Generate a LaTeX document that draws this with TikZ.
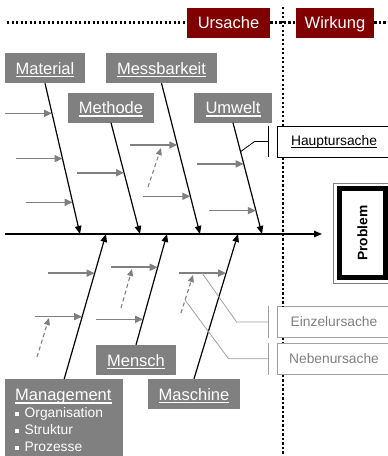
\documentclass[tikz,border=0pt]{standalone}
\usepackage{fontspec}
\setmainfont{Liberation Sans}
\usepackage{xcolor}
\usepackage{tikz}
\usetikzlibrary{arrows.meta, positioning, calc}

\definecolor{causered}{HTML}{800000}
\definecolor{bonegray}{HTML}{808080}
\definecolor{notegray}{HTML}{A0A0A0}

\newsavebox{\ulnbox}
\newcommand{\uln}[1]{\sbox{\ulnbox}{#1}\rlap{\rule[-3pt]{\wd\ulnbox}{1.1pt}}\usebox{\ulnbox}}
\newcommand{\sqbul}{\rule[1.8pt]{3.5pt}{3.5pt}\hspace{6pt}}

\begin{document}
\begin{tikzpicture}[
  x=1pt, y=-1pt,
  cat/.style={fill=bonegray, text=white, minimum height=30pt, inner xsep=11pt,
              inner ysep=0pt, text height=12pt, text depth=0pt,
              font=\fontsize{16.5}{17}\selectfont},
  head/.style={fill=causered, text=white, minimum height=30pt, inner sep=0pt,
               text height=12pt, text depth=0pt,
               font=\fontsize{16.5}{17}\selectfont},
  note/.style={draw, fill=white, line width=0.8pt, minimum width=114pt,
               minimum height=31pt, inner sep=0pt,
               font=\fontsize{13.8}{15}\selectfont},
  bone/.style={-{Triangle[length=8pt, width=6.5pt]}, line width=1.2pt},
  cause/.style={-{Triangle[length=8pt, width=7pt]}, bonegray, line width=1.6pt},
  sub/.style={-{Triangle[length=7pt, width=6pt]}, bonegray, line width=1.1pt,
              dash pattern=on 4pt off 3pt},
  sep/.style={black, line width=2.3pt, dash pattern=on 2.3pt off 2.2pt},
  brk/.style={line width=0.8pt},
]
\useasboundingbox (0,0) rectangle (388,456);
\clip (0,0) rectangle (388,456);

% ---- Ursache / Wirkung -----------------------------------------------------
\node[head, minimum width=83pt] (URS) at (228.5,22.5) {Ursache};
\node[head, minimum width=78pt] (WIR) at (335,22.5) {Wirkung};

% ---- Main categories -------------------------------------------------------
\node[cat] (MAT) at (45,68) {\uln{Material}};
\node[cat] (MES) at (161.5,68) {\uln{Messbarkeit}};
\node[cat] (MET) at (111,107.5) {\uln{Methode}};
\node[cat] (UMW) at (233,107.5) {\uln{Umwelt}};
\node[cat] (MEN) at (136,360) {\uln{Mensch}};
\node[cat] (MAS) at (194,394) {\uln{Maschine}};
\node[cat, anchor=north west, align=left, text width=98pt, inner xsep=10pt,
      inner ysep=10pt, text height=, text depth=, minimum height=0pt]
  (MAN) at (5,379)
  {\uln{Management}\\\fontsize{13.8}{17}\selectfont
   \sqbul Organisation\\\sqbul Struktur\\\sqbul Prozesse};

% ---- Problem ---------------------------------------------------------------
\node[draw, line width=5pt, minimum width=46pt, minimum height=89pt,
      inner sep=0pt] (PROB) at (362.5,233) {};
\node[rotate=90, font=\bfseries\fontsize{13.8}{15}\selectfont] (PROBT)
  at (PROB.center) {Problem};
\draw[bonegray, line width=0.9pt] ([shift={(-4pt,3pt)}]PROB.north west)
  rectangle ([shift={(4pt,-3pt)}]PROB.south east);

% ---- Legend boxes ----------------------------------------------------------
\node[note] (HU) at (334,141.5) {\uln{Hauptursache}};
\node[note, draw=notegray, text=bonegray] (EU) at (334,322) {Einzelursache};
\node[note, draw=notegray, text=bonegray, below=5pt of EU] (NU) {Nebenursache};

% ---- Separators ------------------------------------------------------------
\coordinate (dL) at (7,22.5);
\coordinate (dR) at (392,22.5);
\coordinate (dT) at (283,7);
\coordinate (dB) at (283,458);
\draw[sep] (dL) -- (URS.west) (URS.east) -- (WIR.west) (WIR.east) -- (dR);
\draw[sep] (dT) -- (dT |- HU.north) (dT |- HU.south) -- (dT |- EU.north)
  (dT |- EU.south) -- (dT |- NU.north) (dT |- NU.south) -- (dB);

% ---- Spine and bones -------------------------------------------------------
\coordinate (sL) at (5,234);
\coordinate (sR) at (322,234);
\draw[bone, line width=1.3pt] (sL) -- (sR);

\foreach \n/\x in {MAT/80,MET/140,MES/200,UMW/262,MAN/106,MEN/167,MAS/238}
  \coordinate (p\n) at (\x,234);
\foreach \n in {MAT,MET,MES,UMW} \draw[bone] (\n.south) -- (p\n);
\foreach \n in {MAN,MEN,MAS} \draw[bone] (\n.north) -- (p\n);

% ---- Causes ----------------------------------------------------------------
\foreach \n/\t/\k in {MAT/0.2/a,MAT/0.5/b,MAT/0.79/c,MET/0.45/a,
                      MES/0.41/a,MES/0.75/b,UMW/0.37/a,UMW/0.79/b} {
  \coordinate (c\n\k) at ($(\n.south)!\t!(p\n)$);
  \coordinate (t\n\k) at ([xshift=-47pt]c\n\k);
  \draw[cause] (t\n\k) -- (c\n\k);
}
\foreach \n/\t/\k in {MAN/0.43/a,MAN/0.73/b,MEN/0.23/a,MEN/0.70/b,MAS/0.73/a} {
  \coordinate (c\n\k) at ($(\n.north)!\t!(p\n)$);
  \coordinate (t\n\k) at ([xshift=-47pt]c\n\k);
  \draw[cause] (t\n\k) -- (c\n\k);
}

% sub causes (dashed)
\foreach \n/\a/\b/\c/\d in {sMES/148/187/161/148,sMAN/37/357/49/318,
                            sMEN/121/308/132/269,sMAS/181/313/193/275} {
  \coordinate (\n0) at (\a,\b);
  \coordinate (\n1) at (\c,\d);
  \draw[sub] (\n0) -- (\n1);
}

% ---- Legend brackets -------------------------------------------------------
\coordinate (hu) at ($(UMW.south)!0.26!(pUMW)$);
\draw[brk] ([xshift=-8pt]HU.north west) -- ([xshift=-8pt]HU.south west);
\draw[brk] ([xshift=-8pt]HU.west) -- ++(-14,0) -- (hu);

\coordinate (eu) at ([xshift=23pt]tMASa);
\draw[brk, notegray] ([xshift=-8pt]EU.north west) -- ([xshift=-8pt]EU.south west);
\draw[brk, notegray] ([xshift=-8pt]EU.west) -- ++(-32,0) -- (eu);

\coordinate (nu) at ($(sMAS0)!0.34!(sMAS1)$);
\draw[brk, notegray] ([xshift=-8pt]NU.north west) -- ([xshift=-8pt]NU.south west);
\draw[brk, notegray] ([xshift=-8pt]NU.west) -- ++(-40,0) -- (nu);

\end{tikzpicture}
\end{document}
